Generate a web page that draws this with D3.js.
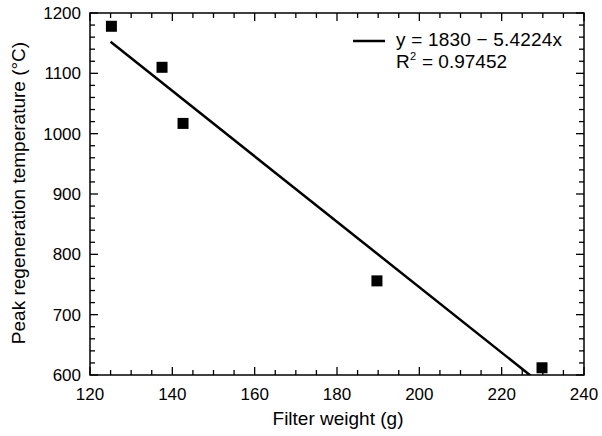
<!DOCTYPE html>
<html>
<head>
<meta charset="utf-8">
<script src="https://cdn.jsdelivr.net/npm/d3@7"></script>
<style>
  body { margin: 0; background: #fff; }
  svg text { font-family: "Liberation Sans", Arial, sans-serif; fill: #000; }
</style>
</head>
<body>
<svg id="chart" width="602" height="436"></svg>
<script>
// filter weight (g) vs peak regeneration temperature (°C)
const weights = [125.2, 137.5, 142.6, 189.7, 229.8];
const temps   = [1178, 1110, 1017, 756, 612];

// linear fit shown in legend
const fitA = 1830, fitB = -5.4224;
const fitRange = [125, 240];

const xTicks = [120, 140, 160, 180, 200, 220, 240];
const yTicks = [600, 700, 800, 900, 1000, 1100, 1200];

const W = 602, H = 436;
const M = { left: 90, right: 18, top: 13, bottom: 61 };
const svg = d3.select("#chart");

const x = d3.scaleLinear().domain([120, 240]).range([M.left, W - M.right]);
const y = d3.scaleLinear().domain([600, 1200]).range([H - M.bottom, M.top]);

const x0 = x.range()[0], x1 = x.range()[1];
const y0 = y.range()[0], y1 = y.range()[1];

// ── frame ──
svg.append("rect")
  .attr("x", x0).attr("y", y1)
  .attr("width", x1 - x0).attr("height", y0 - y1)
  .attr("fill", "none").attr("stroke", "#000").attr("stroke-width", 1.5);

// ── inward ticks on all four sides ──
const g = svg.append("g").attr("stroke", "#000").attr("stroke-width", 1.3);
const xMinor = d3.range(120, 240.1, 5);
const yMinor = d3.range(600, 1200.1, 20);

xMinor.forEach(v => {
  const len = v % 20 === 0 ? 8 : 5;
  g.append("line").attr("x1", x(v)).attr("x2", x(v)).attr("y1", y0).attr("y2", y0 - len);
  g.append("line").attr("x1", x(v)).attr("x2", x(v)).attr("y1", y1).attr("y2", y1 + len);
});
yMinor.forEach(v => {
  const len = v % 100 === 0 ? 8 : 5;
  g.append("line").attr("y1", y(v)).attr("y2", y(v)).attr("x1", x0).attr("x2", x0 + len);
  g.append("line").attr("y1", y(v)).attr("y2", y(v)).attr("x1", x1).attr("x2", x1 - len);
});

// ── tick labels ──
svg.append("g").selectAll("text")
  .data(xTicks).join("text")
    .attr("x", d => x(d)).attr("y", y0 + 25)
    .attr("text-anchor", "middle")
    .attr("font-size", 17)
    .text(d => d);

svg.append("g").selectAll("text")
  .data(yTicks).join("text")
    .attr("x", x0 - 9).attr("y", d => y(d) + 6)
    .attr("text-anchor", "end")
    .attr("font-size", 17)
    .text(d => d);

// ── axis titles ──
svg.append("text")
  .attr("x", (x0 + x1) / 2 + 1).attr("y", 425)
  .attr("text-anchor", "middle").attr("font-size", 19)
  .text("Filter weight (g)");

svg.append("text")
  .attr("transform", `translate(25,${(y0 + y1) / 2 - 1}) rotate(-90)`)
  .attr("text-anchor", "middle").attr("font-size", 19)
  .text("Peak regeneration temperature (°C)");

// ── fit line, clipped to plot ──
svg.append("clipPath").attr("id", "plot-clip")
  .append("rect").attr("x", x0).attr("y", y1).attr("width", x1 - x0).attr("height", y0 - y1);

const fitPts = fitRange.map(v => [v, fitA + fitB * v]);
svg.append("path")
  .datum(fitPts)
  .attr("clip-path", "url(#plot-clip)")
  .attr("fill", "none").attr("stroke", "#000").attr("stroke-width", 2.5)
  .attr("d", d3.line().x(d => x(d[0])).y(d => y(d[1])));

// ── data markers ──
const S = 11;
svg.append("g").selectAll("rect")
  .data(weights.map((w, i) => [w, temps[i]])).join("rect")
    .attr("x", d => x(d[0]) - S / 2).attr("y", d => y(d[1]) - S / 2)
    .attr("width", S).attr("height", S)
    .attr("fill", "#000");

// ── legend ──
svg.append("line")
  .attr("x1", 353).attr("x2", 385).attr("y1", 41).attr("y2", 41)
  .attr("stroke", "#000").attr("stroke-width", 2.5);

svg.append("text")
  .attr("x", 396).attr("y", 46).attr("font-size", 19)
  .attr("letter-spacing", 0.2)
  .text("y = 1830 \u2212 5.4224x");

svg.append("text")
  .attr("x", 396).attr("y", 68).attr("font-size", 19)
  .text("R");
svg.append("text")
  .attr("x", 410).attr("y", 60).attr("font-size", 11)
  .text("2");
svg.append("text")
  .attr("x", 422).attr("y", 68).attr("font-size", 19)
  .text("= 0.97452");
</script>
</body>
</html>
